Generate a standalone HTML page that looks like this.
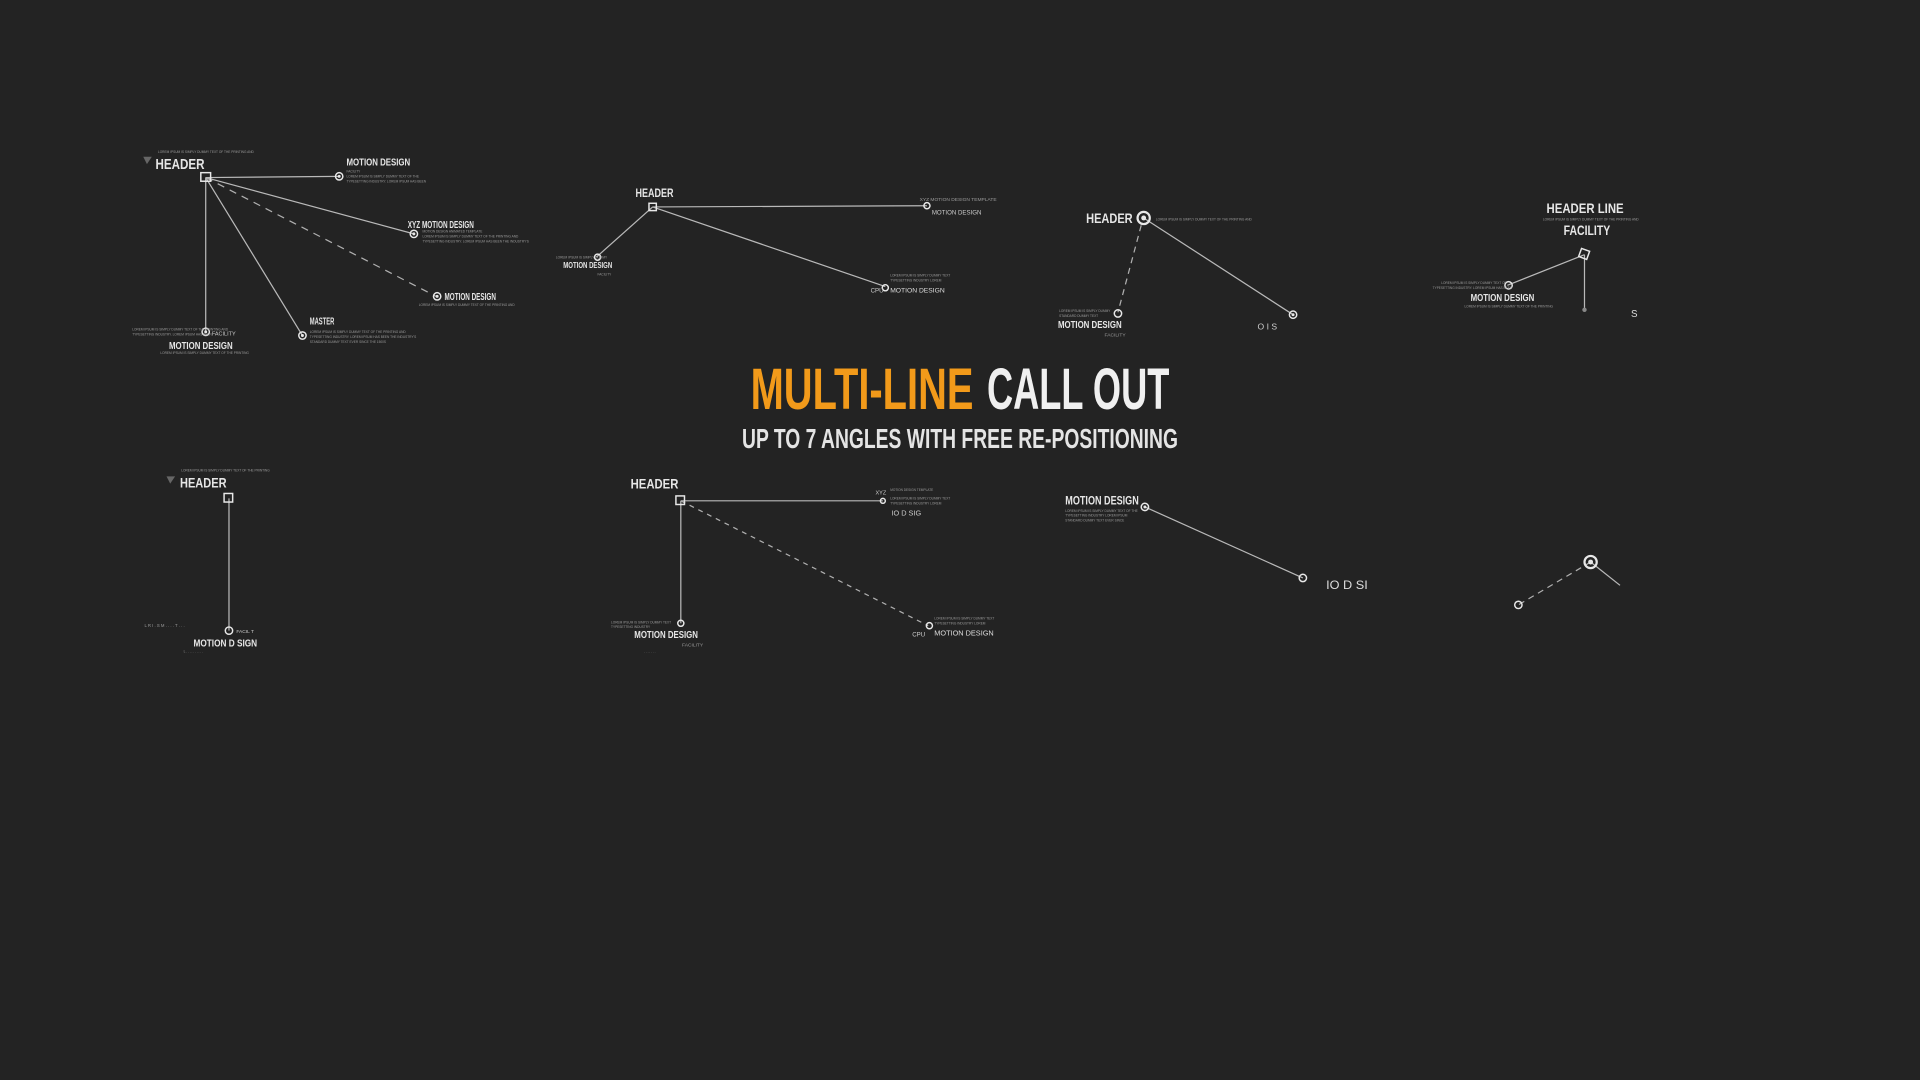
<!DOCTYPE html>
<html><head><meta charset="utf-8"><style>
html,body{margin:0;padding:0;background:#232323;overflow:hidden}
svg{display:block}
text{font-family:"Liberation Sans Narrow","Liberation Sans",sans-serif;font-weight:bold;fill:#e6e6e6}
.s{font-size:2.6px;fill:#9a9a9a;font-weight:normal}
.h{font-size:12px}
.m{font-size:8.5px}
.l{stroke:#b9b9b9;stroke-width:1;fill:none}
.d{stroke:#b0b0b0;stroke-width:1;fill:none;stroke-dasharray:6 5}
.c{fill:none;stroke:#e8e8e8;stroke-width:1.2}
.dot{fill:#e8e8e8}
</style></head><body>
<svg width="1920" height="1080" viewBox="0 0 1568 882" xmlns="http://www.w3.org/2000/svg">
<rect width="1568" height="882" fill="#232323"/>

<!-- group 1 -->
<text x="129" y="125" class="s">LOREM IPSUM IS SIMPLY DUMMY TEXT OF THE PRINTING AND</text>
<polygon points="117,128 124,128 120,134" fill="#666"/>
<text x="127" y="138" class="h" textLength="40" lengthAdjust="spacingAndGlyphs">HEADER</text>
<line x1="168" y1="145" x2="277" y2="144" class="l"/>
<line x1="168" y1="145" x2="338" y2="191" class="l"/>
<line x1="168" y1="145" x2="356" y2="242" class="d"/>
<line x1="168" y1="145" x2="247" y2="274" class="l"/>
<line x1="168" y1="145" x2="168" y2="271" class="l"/>
<rect x="164" y="141" width="8" height="7" class="c"/>
<circle cx="277" cy="144" r="3" class="c"/><circle cx="277" cy="144" r="1.2" class="dot"/>
<text x="283" y="135" class="m" textLength="52" lengthAdjust="spacingAndGlyphs">MOTION DESIGN</text>
<text x="283" y="141" class="s">FACILITY</text>
<text x="283" y="145" class="s">LOREM IPSUM IS SIMPLY DUMMY TEXT OF THE</text>
<text x="283" y="149" class="s">TYPESETTING INDUSTRY. LOREM IPSUM HAS BEEN</text>
<circle cx="338" cy="191" r="3" class="c"/><circle cx="338" cy="191" r="1.2" class="dot"/>
<text x="333" y="186" class="m" textLength="54" lengthAdjust="spacingAndGlyphs">XYZ MOTION DESIGN</text>
<text x="345" y="190" class="s">MOTION DESIGN ANIMATED TEMPLATE</text>
<text x="345" y="194" class="s">LOREM IPSUM IS SIMPLY DUMMY TEXT OF THE PRINTING AND</text>
<text x="345" y="198" class="s">TYPESETTING INDUSTRY. LOREM IPSUM HAS BEEN THE INDUSTRY'S</text>
<circle cx="357" cy="242" r="3" class="c"/><circle cx="357" cy="242" r="1.2" class="dot"/>
<text x="363" y="245" class="m" textLength="42" lengthAdjust="spacingAndGlyphs">MOTION DESIGN</text>
<text x="342" y="250" class="s">LOREM IPSUM IS SIMPLY DUMMY TEXT OF THE PRINTING AND</text>
<circle cx="247" cy="274" r="3" class="c"/><circle cx="247" cy="274" r="1.2" class="dot"/>
<text x="253" y="265" class="m" textLength="20" lengthAdjust="spacingAndGlyphs">MASTER</text>
<text x="253" y="272" class="s">LOREM IPSUM IS SIMPLY DUMMY TEXT OF THE PRINTING AND</text>
<text x="253" y="276" class="s">TYPESETTING INDUSTRY. LOREM IPSUM HAS BEEN THE INDUSTRY'S</text>
<text x="253" y="280" class="s">STANDARD DUMMY TEXT EVER SINCE THE 1500S</text>
<circle cx="168" cy="271" r="3" class="c"/><circle cx="168" cy="271" r="1.2" class="dot"/>
<text x="108" y="270" class="s">LOREM IPSUM IS SIMPLY DUMMY TEXT OF THE PRINTING AND</text>
<text x="108" y="274" class="s">TYPESETTING INDUSTRY. LOREM IPSUM HAS BEEN</text>
<text x="173" y="274" class="s" style="font-size:4.5px;fill:#ccc">FACILITY</text>
<text x="138" y="285" class="m" textLength="52" lengthAdjust="spacingAndGlyphs">MOTION DESIGN</text>
<text x="131" y="289" class="s">LOREM IPSUM IS SIMPLY DUMMY TEXT OF THE PRINTING</text>

<!-- group 2 -->
<text x="519" y="161" class="m" style="font-size:10px" textLength="31" lengthAdjust="spacingAndGlyphs">HEADER</text>
<line x1="533" y1="169" x2="757" y2="168" class="l"/>
<line x1="533" y1="169" x2="487" y2="210" class="l"/>
<line x1="533" y1="169" x2="723" y2="234" class="l"/>
<rect x="530" y="166" width="6" height="6" class="c"/>
<circle cx="757" cy="168" r="2.5" class="c"/>
<text x="751" y="164" class="s" style="font-size:4px">XYZ MOTION DESIGN TEMPLATE</text>
<text x="761" y="175" class="s" style="font-size:5px;fill:#ccc">MOTION DESIGN</text>
<circle cx="488" cy="210" r="2.5" class="c"/>
<text x="454" y="211" class="s">LOREM IPSUM IS SIMPLY DUMMY</text>
<text x="460" y="219" class="m" style="font-size:7px" textLength="40" lengthAdjust="spacingAndGlyphs">MOTION DESIGN</text>
<text x="488" y="225" class="s">FACILITY</text>
<circle cx="723" cy="235" r="2.5" class="c"/>
<text x="727" y="226" class="s">LOREM IPSUM IS SIMPLY DUMMY TEXT</text>
<text x="727" y="230" class="s">TYPESETTING INDUSTRY LOREM</text>
<text x="711" y="239" class="s" style="font-size:5px;fill:#ccc">CPU</text>
<text x="727" y="239" class="s" style="font-size:5.5px;fill:#ddd">MOTION DESIGN</text>

<!-- group 3 -->
<text x="887" y="182" class="h" style="font-size:11px" textLength="38" lengthAdjust="spacingAndGlyphs">HEADER</text>
<line x1="934" y1="178" x2="1056" y2="257" class="l"/>
<line x1="932" y1="184" x2="913" y2="255" class="d" style="stroke-dasharray:5 4"/>
<circle cx="934" cy="178" r="5" class="c" style="stroke-width:1.8"/><circle cx="934" cy="178" r="2" class="dot"/>
<text x="944" y="180" class="s">LOREM IPSUM IS SIMPLY DUMMY TEXT OF THE PRINTING AND</text>
<circle cx="1056" cy="257" r="3" class="c"/><circle cx="1056" cy="257" r="1.2" class="dot"/>
<text x="1027" y="269" class="s" style="font-size:7px;fill:#ccc">O  I S</text>
<circle cx="913" cy="256" r="3" class="c"/>
<text x="865" y="255" class="s">LOREM IPSUM IS SIMPLY DUMMY</text>
<text x="865" y="259" class="s">STANDARD DUMMY TEXT</text>
<text x="864" y="268" class="m" textLength="52" lengthAdjust="spacingAndGlyphs">MOTION DESIGN</text>
<text x="902" y="275" class="s" style="font-size:4px">FACILITY</text>

<!-- group 4 -->
<text x="1263" y="174" class="h" style="font-size:11px" textLength="63" lengthAdjust="spacingAndGlyphs">HEADER LINE</text>
<text x="1260" y="180" class="s">LOREM IPSUM IS SIMPLY DUMMY TEXT OF THE PRINTING AND</text>
<text x="1277" y="192" class="h" style="font-size:11px" textLength="38" lengthAdjust="spacingAndGlyphs">FACILITY</text>
<line x1="1294" y1="208" x2="1231" y2="233" class="l"/>
<line x1="1294" y1="208" x2="1294" y2="252" class="l"/>
<rect x="1290" y="204" width="7" height="7" class="c" transform="rotate(20 1294 208)"/>
<circle cx="1232" cy="233" r="3" class="c"/>
<text x="1177" y="232" class="s">LOREM IPSUM IS SIMPLY DUMMY TEXT OF</text>
<text x="1170" y="236" class="s">TYPESETTING INDUSTRY. LOREM IPSUM HAS BEEN</text>
<text x="1201" y="246" class="m" textLength="52" lengthAdjust="spacingAndGlyphs">MOTION DESIGN</text>
<text x="1196" y="251" class="s">LOREM IPSUM IS SIMPLY DUMMY TEXT OF THE PRINTING</text>
<circle cx="1294" cy="253" r="1.8" fill="#888"/>
<text x="1332" y="259" class="s" style="font-size:8px;fill:#ddd">S</text>

<!-- title -->
<text x="613" y="334" style="font-size:48px;fill:#f29a1a" textLength="182" lengthAdjust="spacingAndGlyphs">MULTI-LINE</text>
<text x="806" y="334" style="font-size:48px;fill:#f0f0f0" textLength="149" lengthAdjust="spacingAndGlyphs">CALL OUT</text>
<text x="606" y="366" style="font-size:23px;fill:#e4e4e4" textLength="356" lengthAdjust="spacingAndGlyphs">UP TO 7 ANGLES WITH FREE RE-POSITIONING</text>

<!-- group 5 -->
<text x="148" y="385" class="s">LOREM IPSUM IS SIMPLY DUMMY TEXT OF THE PRINTING</text>
<polygon points="136,389 143,389 139,395" fill="#666"/>
<text x="147" y="398" class="h" style="font-size:11px" textLength="38" lengthAdjust="spacingAndGlyphs">HEADER</text>
<line x1="187" y1="407" x2="187" y2="515" class="l"/>
<rect x="183" y="403" width="7" height="7" class="c"/>
<circle cx="187" cy="515" r="3" class="c"/>
<text x="118" y="512" class="s" style="font-size:3.5px">L  R  I  .  S  M   . .  . .  T . . .</text>
<text x="193" y="517" class="s" style="font-size:4px;fill:#ccc">FACIL T</text>
<text x="158" y="528" class="m" textLength="52" lengthAdjust="spacingAndGlyphs">MOTION D SIGN</text>
<text x="150" y="533" class="s">L  . .  . . .  . .  . . .</text>

<!-- group 6 -->
<text x="515" y="399" class="h" style="font-size:11px" textLength="39" lengthAdjust="spacingAndGlyphs">HEADER</text>
<line x1="556" y1="409" x2="721" y2="409" class="l"/>
<line x1="556" y1="409" x2="556" y2="509" class="l"/>
<line x1="556" y1="409" x2="758" y2="511" class="d" style="stroke-dasharray:4 4"/>
<rect x="552" y="405" width="7" height="7" class="c"/>
<circle cx="721" cy="409" r="2" class="c"/>
<text x="715" y="404" class="s" style="font-size:4.5px;fill:#ccc">XYZ</text>
<text x="727" y="401" class="s">MOTION DESIGN TEMPLATE</text>
<text x="727" y="408" class="s">LOREM IPSUM IS SIMPLY DUMMY TEXT</text>
<text x="727" y="412" class="s">TYPESETTING INDUSTRY LOREM</text>
<text x="728" y="421" class="s" style="font-size:6px;fill:#ccc">  IO  D SIG</text>
<circle cx="556" cy="509" r="2.5" class="c"/>
<text x="499" y="509" class="s">LOREM IPSUM IS SIMPLY DUMMY TEXT</text>
<text x="499" y="513" class="s">TYPESETTING INDUSTRY</text>
<text x="518" y="521" class="m" textLength="52" lengthAdjust="spacingAndGlyphs">MOTION DESIGN</text>
<text x="557" y="528" class="s" style="font-size:4px">FACILITY</text>
<text x="526" y="533" class="s">. . . . . . .</text>
<circle cx="759" cy="511" r="2.5" class="c"/>
<text x="763" y="506" class="s">LOREM IPSUM IS SIMPLY DUMMY TEXT</text>
<text x="763" y="510" class="s">TYPESETTING INDUSTRY LOREM</text>
<text x="745" y="520" class="s" style="font-size:5px;fill:#ccc">CPU</text>
<text x="763" y="519" class="s" style="font-size:6px;fill:#ddd">MOTION DESIGN</text>

<!-- group 7 -->
<text x="870" y="412" class="m" style="font-size:9.5px" textLength="60" lengthAdjust="spacingAndGlyphs">MOTION DESIGN</text>
<text x="870" y="418" class="s">LOREM IPSUM IS SIMPLY DUMMY TEXT OF THE</text>
<text x="870" y="422" class="s">TYPESETTING INDUSTRY LOREM IPSUM</text>
<text x="870" y="426" class="s">STANDARD DUMMY TEXT EVER SINCE</text>
<line x1="935" y1="414" x2="1064" y2="472" class="l"/>
<circle cx="935" cy="414" r="3" class="c"/><circle cx="935" cy="414" r="1.2" class="dot"/>
<circle cx="1064" cy="472" r="3" class="c"/>
<text x="1083" y="481" class="s" style="font-size:10px;fill:#ddd" textLength="34" lengthAdjust="spacingAndGlyphs">IO  D SI</text>

<!-- group 8 -->
<line x1="1299" y1="459" x2="1240" y2="494" class="d" style="stroke-dasharray:5 4"/>
<line x1="1299" y1="459" x2="1323" y2="478" class="l"/>
<circle cx="1299" cy="459" r="5" class="c" style="stroke-width:1.8"/><circle cx="1299" cy="459" r="2" class="dot"/>
<circle cx="1240" cy="494" r="3" class="c"/>
</svg>
</body></html>
